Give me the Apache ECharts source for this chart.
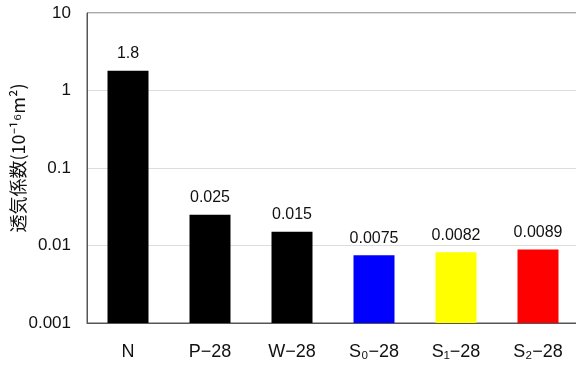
<!DOCTYPE html>
<html><head><meta charset="utf-8">
<script src="https://cdn.jsdelivr.net/npm/echarts@6/dist/echarts.min.js"></script>
<style>html,body{margin:0;padding:0;background:#fff}#c{width:576px;height:367px}</style>
</head><body><div id="c"></div>
<script>
const categories = ['N', 'P\u221228', 'W\u221228', 'S\u2080\u221228', 'S\u2081\u221228', 'S\u2082\u221228'];
const values = [1.8, 0.025, 0.015, 0.0075, 0.0082, 0.0089];
const valueLabels = ['1.8', '0.025', '0.015', '0.0075', '0.0082', '0.0089'];
const colors = ['#000000', '#000000', '#000000', '#0000ff', '#ffff00', '#ff0000'];
const yTickLabels = {'0.001':'0.001','0.01':'0.01','0.1':'0.1','1':'1','10':'10'};
const yMin = 0.001, yMax = 10;

const chart = echarts.init(document.getElementById('c'), null, {renderer:'canvas'});
const font = '"Liberation Sans", Arial, sans-serif';
chart.setOption({
  animation: false,
  grid: {left: 87, top: 13, bottom: 44, right: -3, show: true, borderColor: '#555', borderWidth: 1,
         containLabel: false, outerBoundsMode: 'none'},
  xAxis: {
    type: 'category', data: categories,
    axisLine: {lineStyle: {color: '#555'}},
    axisTick: {show: false},
    axisLabel: {color: '#111', fontSize: 18, fontFamily: font, margin: 20}
  },
  yAxis: {
    type: 'log', logBase: 10, min: yMin, max: yMax,
    name: '透気係数(10\u207B\u00B9\u2076m\u00B2)',
    nameLocation: 'middle', nameGap: 60, nameRotate: 90, nameMoveOverlap: false,
    nameTextStyle: {color: '#111', fontSize: 18, fontFamily: '"Noto Sans CJK JP", sans-serif', padding: [0, 0, 0, 20]},
    axisLine: {show: true, lineStyle: {color: '#555'}},
    axisTick: {show: false},
    splitLine: {lineStyle: {color: '#ddd'}},
    axisLabel: {color: '#111', fontSize: 17, fontFamily: font, margin: 16,
      formatter: v => { const k = String(+v.toPrecision(3)); return yTickLabels[k] || k; }}
  },
  series: [{
    type: 'custom',
    data: values.map((v, i) => [i, v]),
    renderItem: (params, api) => {
      const i = api.value(0), v = api.value(1);
      const top = api.coord([i, v]);
      const base = api.coord([i, yMin]);
      const w = api.size([1, 0])[0] * 0.5;
      return {
        type: 'rect',
        shape: {x: top[0] - w / 2, y: top[1], width: w, height: base[1] - top[1]},
        style: {fill: colors[params.dataIndex]},
        textContent: {style: {text: valueLabels[params.dataIndex], fill: '#111', fontSize: 16, fontFamily: font}},
        textConfig: {position: 'top', distance: 9}
      };
    }
  }]
});
</script></body></html>
